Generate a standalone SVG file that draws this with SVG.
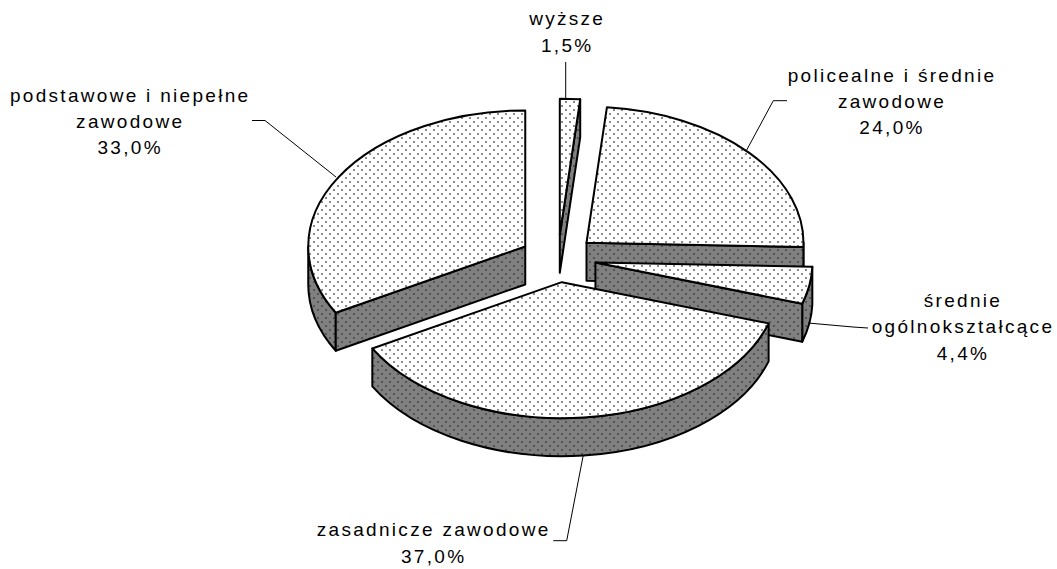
<svg xmlns="http://www.w3.org/2000/svg" width="1057" height="569" viewBox="0 0 1057 569">
<defs>
<pattern id="lt" patternUnits="userSpaceOnUse" width="8" height="8">
<rect width="8" height="8" fill="#ffffff"/>
<rect x="1" y="1" width="2" height="2" fill="#8a8a8a"/>
<rect x="5" y="5" width="2" height="2" fill="#8a8a8a"/>
</pattern>
<pattern id="dk" patternUnits="userSpaceOnUse" width="8" height="8">
<rect width="8" height="8" fill="#808080"/>
<rect x="1" y="1" width="2" height="2" fill="#555555"/>
<rect x="5" y="5" width="2" height="2" fill="#555555"/>
</pattern>
</defs>
<style>
.top{fill:url(#lt);stroke:#000;stroke-width:2;stroke-linejoin:round}
.side{fill:url(#dk);stroke:#000;stroke-width:2;stroke-linejoin:round}
.lead{fill:none;stroke:#000;stroke-width:1}
text{font-family:"Liberation Sans",Arial,sans-serif;font-size:19px;letter-spacing:2.3px;fill:#000;text-anchor:middle}
</style>
<rect width="1057" height="569" fill="#ffffff"/>

<g id="slice-wyzsze">
<polygon class="side" points="559.79,234.73 580.21,99.33 580.21,137.33 559.79,272.73"/>
<path class="top" d="M559.79,234.73 L559.79,98.73 A217,136 0 0 1 580.21,99.33 Z"/>
</g>

<g id="slice-policealne">
<path class="side" d="M803.49,242.76 A217,136 0 0 1 803.38,247.03 L803.38,285.03 A217,136 0 0 0 803.49,280.76 Z"/>
<polygon class="side" points="586.49,242.76 803.38,247.03 803.38,285.03 586.49,280.76"/>
<path class="top" d="M586.49,242.76 L606.91,107.36 A217,136 0 0 1 803.38,247.03 Z"/>
</g>

<g id="slice-podstawowe">
<path class="side" d="M335.76,312.72 A217,136 0 0 1 308.25,246.45 L308.25,284.45 A217,136 0 0 0 335.76,350.72 Z"/>
<polygon class="side" points="525.25,246.45 335.76,312.72 335.76,350.72 525.25,284.45"/>
<path class="top" d="M525.25,246.45 L335.76,312.72 A217,136 0 0 1 525.25,110.45 Z"/>
</g>

<g id="slice-srednie">
<path class="side" d="M812.32,266.79 A217,136 0 0 1 802.23,303.73 L802.23,341.73 A217,136 0 0 0 812.32,304.79 Z"/>
<polygon class="side" points="595.43,262.52 802.23,303.73 802.23,341.73 595.43,300.52"/>
<path class="top" d="M595.43,262.52 L812.32,266.79 A217,136 0 0 1 802.23,303.73 Z"/>
</g>

<g id="slice-zasadnicze">
<path class="side" d="M768.61,323.39 A217,136 0 0 1 372.32,348.45 L372.32,386.45 A217,136 0 0 0 768.61,361.39 Z"/>
<path class="top" d="M561.81,282.18 L768.61,323.39 A217,136 0 0 1 372.32,348.45 Z"/>
</g>

<g id="connectors">
<polyline class="lead" points="252,120.5 265,120.5 336,177"/>
<polyline class="lead" points="565.7,62 565.7,98.5"/>
<polyline class="lead" points="787,100.7 773.3,100.7 746.7,150"/>
<polyline class="lead" points="808,323 853,327 868,328"/>
<polyline class="lead" points="553.3,540.7 566.7,540.7 583.3,455"/>
</g>

<g id="label-podstawowe">
<text x="130.2" y="101.5">podstawowe i niepełne</text>
<text x="130.2" y="127.5">zawodowe</text>
<text x="130.2" y="153.5">33,0%</text>
</g>
<g id="label-wyzsze">
<text x="567.2" y="25">wyższe</text>
<text x="567.2" y="51.5">1,5%</text>
</g>
<g id="label-policealne">
<text x="892" y="81.7">policealne i średnie</text>
<text x="892" y="108.3">zawodowe</text>
<text x="892" y="134">24,0%</text>
</g>
<g id="label-srednie">
<text x="963" y="306.7">średnie</text>
<text x="963" y="333.3">ogólnokształcące</text>
<text x="963" y="360">4,4%</text>
</g>
<g id="label-zasadnicze">
<text x="433.7" y="536">zasadnicze zawodowe</text>
<text x="433.7" y="562.7">37,0%</text>
</g>
</svg>
